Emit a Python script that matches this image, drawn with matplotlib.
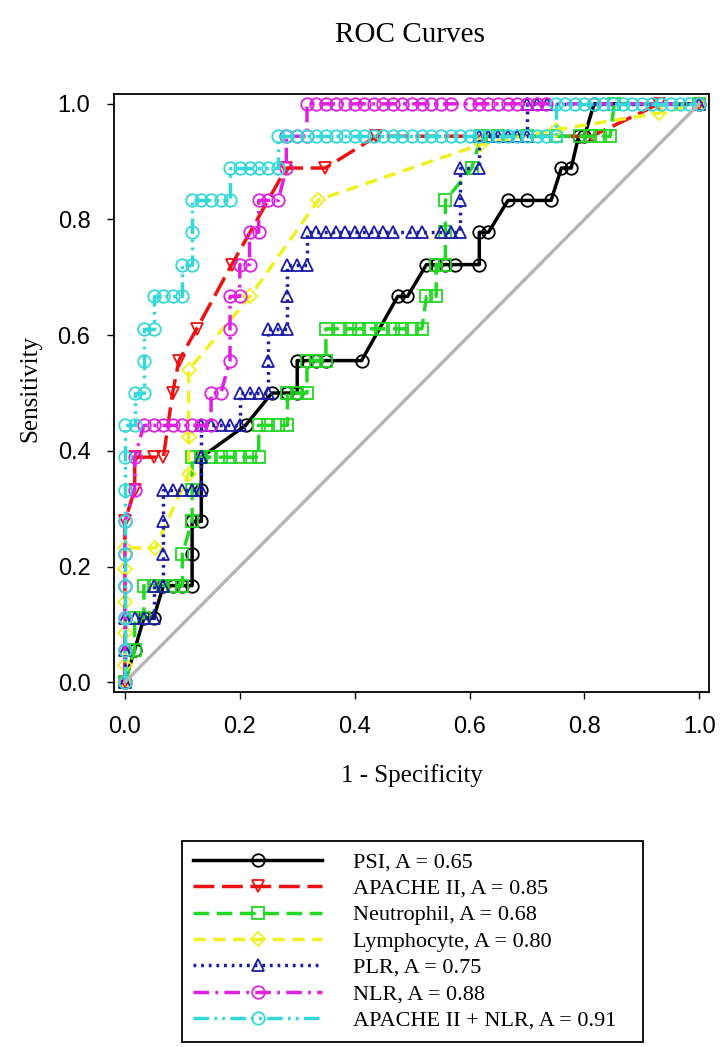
import matplotlib
matplotlib.use("Agg")
import matplotlib.pyplot as plt

# ROC points (1 - specificity, sensitivity)
psi_fpr = [0, 0.017, 0.033, 0.05, 0.067, 0.083, 0.1, 0.117, 0.117, 0.117, 0.133, 0.133, 0.133,
           0.21, 0.256, 0.283, 0.3, 0.3, 0.317, 0.333, 0.35, 0.412, 0.475, 0.492, 0.525, 0.542,
           0.558, 0.575, 0.617, 0.617, 0.633, 0.667, 0.7, 0.742, 0.76, 0.777, 0.79, 0.8, 0.817, 1.0]
psi_tpr = [0, 0.056, 0.111, 0.111, 0.167, 0.167, 0.167, 0.167, 0.222, 0.278, 0.278, 0.333, 0.389,
           0.444, 0.5, 0.5, 0.5, 0.556, 0.556, 0.556, 0.556, 0.556, 0.667, 0.667, 0.722, 0.722,
           0.722, 0.722, 0.722, 0.778, 0.778, 0.833, 0.833, 0.833, 0.889, 0.889, 0.944, 0.944, 1.0, 1.0]

apache_fpr = [0, 0, 0.017, 0.017, 0.05, 0.067, 0.083, 0.094, 0.125, 0.186, 0.281, 0.349,
              0.438, 0.813, 0.93, 1.0]
apache_tpr = [0, 0.278, 0.333, 0.389, 0.389, 0.389, 0.5, 0.556, 0.611, 0.722, 0.889, 0.889,
              0.944, 0.944, 1.0, 1.0]

neut_fpr = [0, 0.017, 0.017, 0.033, 0.033, 0.05, 0.067, 0.083, 0.1, 0.1, 0.117, 0.117, 0.117,
            0.133, 0.15, 0.167, 0.183, 0.2, 0.217, 0.233, 0.233, 0.25, 0.267, 0.283, 0.283, 0.3,
            0.317, 0.317, 0.333, 0.35, 0.35, 0.375, 0.392, 0.408, 0.425, 0.45, 0.467, 0.483, 0.5,
            0.517, 0.525, 0.542, 0.542, 0.558, 0.558, 0.558, 0.604, 0.62, 0.65, 0.7, 0.75, 0.793,
            0.81, 0.827, 0.845, 0.852, 1.0]
neut_tpr = [0, 0.056, 0.111, 0.111, 0.167, 0.167, 0.167, 0.167, 0.167, 0.222, 0.278, 0.333,
            0.389, 0.389, 0.389, 0.389, 0.389, 0.389, 0.389, 0.389, 0.444, 0.444, 0.444, 0.444,
            0.5, 0.5, 0.5, 0.556, 0.556, 0.556, 0.611, 0.611, 0.611, 0.611, 0.611, 0.611, 0.611,
            0.611, 0.611, 0.611, 0.667, 0.667, 0.722, 0.722, 0.778, 0.833, 0.889, 0.944, 0.944,
            0.944, 0.944, 0.944, 0.944, 0.944, 0.944, 1.0, 1.0]

lymph_fpr = [0, 0, 0, 0, 0, 0, 0.053, 0.111, 0.111, 0.111, 0.218, 0.337, 0.62, 0.75, 0.93, 1.0]
lymph_tpr = [0, 0.03, 0.085, 0.138, 0.195, 0.232, 0.232, 0.36, 0.424, 0.54, 0.667, 0.834,
             0.93, 0.955, 0.984, 1.0]

plr_fpr = [0, 0, 0, 0.017, 0.033, 0.05, 0.05, 0.067, 0.067, 0.067, 0.067, 0.083, 0.1, 0.117,
           0.133, 0.133, 0.133, 0.15, 0.167, 0.183, 0.2, 0.2, 0.217, 0.233, 0.25, 0.25, 0.25,
           0.267, 0.283, 0.283, 0.283, 0.3, 0.317, 0.317, 0.333, 0.35, 0.367, 0.383, 0.4, 0.417,
           0.433, 0.45, 0.467, 0.5, 0.517, 0.55, 0.567, 0.583, 0.583, 0.583, 0.617, 0.617, 0.633,
           0.65, 0.667, 0.683, 0.7, 0.7, 0.717, 0.735, 1.0]
plr_tpr = [0, 0.056, 0.111, 0.111, 0.111, 0.111, 0.167, 0.167, 0.222, 0.278, 0.333, 0.333,
           0.333, 0.333, 0.333, 0.389, 0.444, 0.444, 0.444, 0.444, 0.444, 0.5, 0.5, 0.5, 0.5,
           0.556, 0.611, 0.611, 0.611, 0.667, 0.722, 0.722, 0.722, 0.778, 0.778, 0.778, 0.778,
           0.778, 0.778, 0.778, 0.778, 0.778, 0.778, 0.778, 0.778, 0.778, 0.778, 0.778, 0.833,
           0.889, 0.889, 0.944, 0.944, 0.944, 0.944, 0.944, 0.944, 1.0, 1.0, 1.0, 1.0]

nlr_fpr = [0, 0, 0, 0, 0, 0, 0.017, 0.017, 0.033, 0.05, 0.067, 0.083, 0.1, 0.117, 0.133, 0.15,
           0.15, 0.167, 0.183, 0.183, 0.183, 0.2, 0.2, 0.217, 0.217, 0.233, 0.233, 0.25, 0.267,
           0.281, 0.281, 0.3, 0.317, 0.317, 0.333, 0.35, 0.367, 0.383, 0.4, 0.417, 0.433, 0.45,
           0.467, 0.483, 0.5, 0.517, 0.533, 0.55, 0.567, 0.6, 0.617, 0.633, 0.65, 0.667, 0.683,
           0.7, 0.717, 0.733, 1.0]
nlr_tpr = [0, 0.056, 0.111, 0.167, 0.222, 0.278, 0.333, 0.389, 0.444, 0.444, 0.444, 0.444,
           0.444, 0.444, 0.444, 0.444, 0.5, 0.5, 0.556, 0.611, 0.667, 0.667, 0.722, 0.722, 0.778,
           0.778, 0.833, 0.833, 0.833, 0.889, 0.944, 0.944, 0.944, 1.0, 1.0, 1.0, 1.0, 1.0, 1.0,
           1.0, 1.0, 1.0, 1.0, 1.0, 1.0, 1.0, 1.0, 1.0, 1.0, 1.0, 1.0, 1.0, 1.0, 1.0, 1.0, 1.0,
           1.0, 1.0, 1.0]

combo_fpr = [0, 0, 0, 0, 0, 0, 0, 0, 0, 0.017, 0.017, 0.033, 0.033, 0.033, 0.05, 0.05, 0.067,
             0.083, 0.1, 0.1, 0.117, 0.117, 0.117, 0.133, 0.15, 0.167, 0.183, 0.183, 0.2, 0.217,
             0.233, 0.25, 0.267, 0.267, 0.283, 0.3, 0.317, 0.333, 0.35, 0.367, 0.383, 0.4, 0.417,
             0.433, 0.45, 0.467, 0.483, 0.5, 0.517, 0.533, 0.55, 0.567, 0.583, 0.6, 0.617, 0.633,
             0.65, 0.667, 0.683, 0.7, 0.717, 0.733, 0.75, 0.75, 0.767, 0.783, 0.8, 0.817, 0.833,
             0.85, 0.867, 0.883, 0.9, 0.917, 0.933, 0.95, 0.967, 0.983, 1.0]
combo_tpr = [0, 0.056, 0.111, 0.167, 0.222, 0.278, 0.333, 0.389, 0.444, 0.444, 0.5, 0.5, 0.556,
             0.611, 0.611, 0.667, 0.667, 0.667, 0.667, 0.722, 0.722, 0.778, 0.833, 0.833, 0.833,
             0.833, 0.833, 0.889, 0.889, 0.889, 0.889, 0.889, 0.889, 0.944, 0.944, 0.944, 0.944,
             0.944, 0.944, 0.944, 0.944, 0.944, 0.944, 0.944, 0.944, 0.944, 0.944, 0.944, 0.944,
             0.944, 0.944, 0.944, 0.944, 0.944, 0.944, 0.944, 0.944, 0.944, 0.944, 0.944, 0.944,
             0.944, 0.944, 1.0, 1.0, 1.0, 1.0, 1.0, 1.0, 1.0, 1.0, 1.0, 1.0, 1.0, 1.0, 1.0, 1.0,
             1.0, 1.0]

labels = ["PSI, A = 0.65", "APACHE II, A = 0.85", "Neutrophil, A = 0.68",
          "Lymphocyte, A = 0.80", "PLR, A = 0.75", "NLR, A = 0.88",
          "APACHE II + NLR, A = 0.91"]

series = [
    (psi_fpr, psi_tpr, "#000000", "-", "o", 9),
    (apache_fpr, apache_tpr, "#ee1111", (0, (6, 2.2)), "v", 9),
    (neut_fpr, neut_tpr, "#22d822", (0, (4.5, 2.2)), "s", 8),
    (lymph_fpr, lymph_tpr, "#f0f020", (0, (3.5, 2.2)), "D", 7.5),
    (plr_fpr, plr_tpr, "#1c1ca8", (0, (0.8, 1.4)), "^", 9),
    (nlr_fpr, nlr_tpr, "#e020e0", (0, (4.5, 1.8, 0.8, 1.8)), "o", 9),
    (combo_fpr, combo_tpr, "#33d8d8", (0, (4.5, 1.5, 0.8, 1.5, 0.8, 1.5)), "o", 9),
]

serif = "Liberation Serif"
sans = "Liberation Sans"

fig = plt.figure(figsize=(7.2, 10.47), dpi=100)
ax = fig.add_axes([114 / 720, 1 - 692 / 1047, 595 / 720, 598 / 1047])

handles = []
for (fx, ty, col, ls, mk, ms), lab in zip(series, labels):
    h, = ax.plot(fx, ty, color=col, linestyle=ls, linewidth=2.5, marker=mk,
                 markersize=ms, markerfacecolor="none", markeredgecolor=col,
                 markeredgewidth=1.3, label=lab)
    handles.append(h)

ax.plot([0, 1], [0, 1], color="#b4b4b4", linewidth=2.4)

ax.set_xlim(-0.019, 1.017)
ax.set_ylim(-0.017, 1.017)
ticks = [0.0, 0.2, 0.4, 0.6, 0.8, 1.0]
ax.set_xticks(ticks)
ax.set_yticks(ticks)
ax.set_xticklabels(["%.1f" % t for t in ticks], family=sans, fontsize=17)
ax.set_yticklabels(["%.1f" % t for t in ticks], family=sans, fontsize=17)
ax.tick_params(direction="out", length=5, width=1.0, pad=12)
for sp in ax.spines.values():
    sp.set_linewidth(1.3)

fig.text(410 / 720, 1 - 35 / 1047, "ROC Curves", ha="center", va="center",
         family=serif, fontsize=21)
fig.text(30 / 720, 1 - 388 / 1047, "Sensitivity", ha="center", va="center",
         rotation=90, family=serif, fontsize=18)
fig.text(412 / 720, 1 - 776 / 1047, "1 - Specificity", ha="center", va="center",
         family=serif, fontsize=18)

leg = fig.legend(handles=handles, loc="upper left", mode="expand",
                 bbox_to_anchor=(182 / 720, 1 - 841 / 1047, 461 / 720, 0),
                 bbox_transform=fig.transFigure, borderaxespad=0,
                 prop={"family": serif, "size": 16}, numpoints=1,
                 handlelength=5.8, handletextpad=1.4, labelspacing=0.26,
                 borderpad=0.5, fancybox=False, framealpha=1, edgecolor="black")
leg.get_frame().set_linewidth(1.3)

fig.savefig("out.png", dpi=100)
